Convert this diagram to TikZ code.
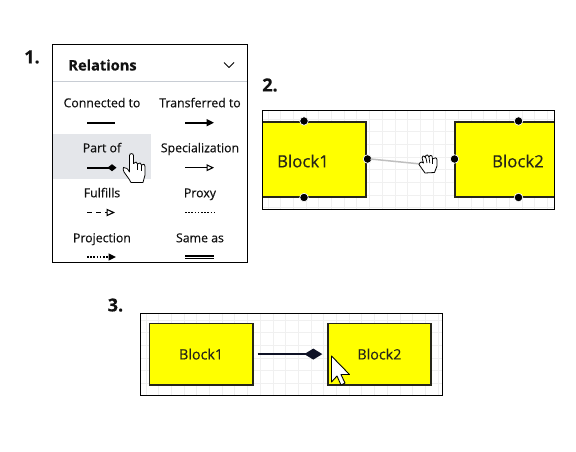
\documentclass[tikz,border=0pt]{standalone}
\usepackage{fontspec}
\setmainfont[FakeBold=0.35]{Open Sans}
\usetikzlibrary{arrows.meta}
\definecolor{ink}{HTML}{111111}
\definecolor{hilite}{HTML}{E4E6EA}
\definecolor{sepline}{HTML}{C8CDD4}
\definecolor{gridc}{HTML}{F0F0F0}
\definecolor{blockfill}{HTML}{FFFF00}
\definecolor{blockedge}{HTML}{26261A}
\definecolor{navyline}{HTML}{0F1226}
\tikzset{
  x=1pt,y=-1pt,
  frame/.style={draw=black,line width=1.1pt,fill=none},
  numlabel/.style={font=\fontsize{18}{18}\selectfont\bfseries,text=ink,inner sep=0pt},
  relname/.style={font=\fontsize{12.3}{12.3}\selectfont,text=ink,inner sep=0pt,text height=9pt,text depth=2.5pt},
  rel/.style={draw=black,line width=1.6pt},
  dotted rel/.style={rel,line width=1.5pt,dash pattern=on 1.6pt off 1.6pt},
  blockA/.style={draw=blockedge,fill=blockfill,line width=1.7pt},
  blocktxt/.style={text=blockedge,inner sep=0pt},
  port/.style={circle,fill=black,draw=white,line width=0.7pt,minimum size=8.5pt,inner sep=0pt},
  handshape/.style={draw=black,fill=white,line width=0.8pt,line join=round},
  fing/.style={draw=black,line width=0.7pt},
}
\begin{document}
\begin{tikzpicture}
\useasboundingbox (0,0) rectangle (576,452);
\fill[white] (0,0) rectangle (576,452);
% --- panel 1
\node[numlabel] (n1) at (32,57) {1.};
\fill[hilite] (53,134) rectangle (151,179);
\draw[sepline,line width=1.3pt] (53,81.5) -- (247,81.5);
\node[inner sep=0pt,font=\fontsize{14.6}{14.6}\selectfont\bfseries,text=ink] (reltitle) at (102.5,65) {Relations};
\draw[black,line width=1pt,line join=round] (224,62.5) -- (229,67.5) -- (234,62.5);
\node[relname] (lconn) at (102,104) {Connected to};
\node[relname] (ltran) at (200,104) {Transferred to};
\node[relname] (lpart) at (102,149) {Part of};
\node[relname] (lspec) at (200,149) {Specialization};
\node[relname] (lfulf) at (102,194) {Fulfills};
\node[relname] (lprox) at (200,194) {Proxy};
\node[relname] (lproj) at (102,239) {Projection};
\node[relname] (lsame) at (200,239) {Same as};
\coordinate (c1a) at (87,122.7); \coordinate (c1b) at (115,122.7);
\coordinate (c2a) at (185,122.7); \coordinate (c2b) at (214,122.7);
\coordinate (c3a) at (87,167.7); \coordinate (c3b) at (116.5,167.7);
\coordinate (c4a) at (185,167.7); \coordinate (c4b) at (214,167.7);
\coordinate (c5a) at (87,212.5); \coordinate (c5b) at (115,212.5);
\coordinate (c6a) at (185,212.5); \coordinate (c6b) at (214,212.5);
\coordinate (c7a) at (87,257); \coordinate (c7b) at (116,257);
\coordinate (c8a) at (185,257); \coordinate (c8b) at (214,257);
\draw[rel] (c1a) -- (c1b);
\draw[rel,-{Triangle[length=7.5pt,width=7pt]}] (c2a) -- (c2b);
\draw[rel,-{Diamond[length=9pt,width=7pt]}] (c3a) -- (c3b);
\draw[rel,line width=1.4pt,-{Triangle[open,length=7.5pt,width=7pt,fill=white,line width=1.1pt]}] (c4a) -- (c4b);
\draw[rel,line width=1.6pt,dash pattern=on 5pt off 4pt,-{Triangle[open,length=8.5pt,width=7.5pt,fill=white,line width=1.1pt]}] (c5a) -- (c5b);
\draw[dotted rel] (c6a) -- (c6b);
\draw[dotted rel,-{Triangle[length=7.5pt,width=7pt]}] (c7a) -- (c7b);
\draw[black,line width=1.2pt,double=white,double distance=1pt] (c8a) -- (c8b);
% hand 1
\draw[handshape] (123.5,167.5) .. controls (126,167) and (128,169) .. (129.5,172)
  -- (129.5,155.5) .. controls (129.5,153) and (133.5,153) .. (133.5,155.5)
  -- (133.5,163.5) .. controls (135,161.5) and (137.5,161.5) .. (137.5,164)
  .. controls (139,162.5) and (141.5,162.5) .. (141.5,165)
  .. controls (143,163.5) and (145,164) .. (145,167)
  -- (145,175) -- (143,182.5) -- (131,182.5) -- (129,179) -- (124,172) .. controls (123,170) and (123,168.5) .. (123.5,167.5) -- cycle;
\draw[fing] (137.5,164) -- (137.5,170);
\draw[fing] (141.5,165) -- (141.5,171);
\draw[frame] (52.5,44.5) rectangle (247.5,262.5);
% --- panel 2
\node[numlabel] (n2) at (270,85) {2.};
\begin{scope}
\clip (262.5,110.5) rectangle (554.5,209.5);
\foreach \gx in {268,280.7,...,560} \draw[gridc,line width=1pt] (\gx,110) -- (\gx,211);
\foreach \gy in {119,131.7,...,210} \draw[gridc,line width=1pt] (262,\gy) -- (555,\gy);
\draw[blockA] (250,122) rectangle (366,196.7);
\draw[blockA] (570,122) rectangle (455.3,196.7);
\end{scope}
\node[blocktxt,font=\fontsize{16.8}{16.8}\selectfont] (b1) at (303,161) {Block1};
\node[blocktxt,font=\fontsize{16.8}{16.8}\selectfont] (b2) at (518,161) {Block2};
\node[port] (p1) at (304,121) {};
\node[port] (p2) at (304,197.5) {};
\node[port] (p3) at (367.5,159) {};
\node[port] (p4) at (454.5,159) {};
\node[port] (p5) at (518.5,121) {};
\node[port] (p6) at (518.5,197.5) {};
\coordinate (dragend) at (421,164);
\draw[gray!50,line width=1.5pt] (p3.center) ++(3,0) -- (dragend);
% open hand
\draw[handshape] (419,164.5) .. controls (420,161) and (423,162) .. (423.5,163)
  .. controls (422,158) and (421.5,157) .. (423,156)
  .. controls (424.5,155.5) and (425,157) .. (425.5,158)
  .. controls (425,156) and (426,154.5) .. (427.5,155)
  .. controls (428.5,155.5) and (428.5,156) .. (429,157)
  .. controls (429.5,155) and (431,155) .. (432,156)
  .. controls (432.5,157) and (432.5,158) .. (432.5,159)
  .. controls (434,157.5) and (437,157) .. (437,160)
  -- (437,166) -- (434.5,172.5) -- (425,173) -- cycle;
\draw[fing] (426,158) -- (427,163);
\draw[fing] (429,157) -- (429.8,163);
\draw[fing] (432.5,159) -- (432.5,164);
\draw[frame] (262.5,110.5) rectangle (554.5,209.5);
% --- panel 3
\node[numlabel] (n3) at (115.5,305) {3.};
\begin{scope}
\clip (140.5,313.5) rectangle (442.5,395.5);
\foreach \gx in {146,158.7,...,445} \draw[gridc,line width=1pt] (\gx,313) -- (\gx,396);
\foreach \gy in {320,332.7,...,396} \draw[gridc,line width=1pt] (140,\gy) -- (443,\gy);
\end{scope}
\node[blockA,minimum width=103.5pt,minimum height=61.5pt,inner sep=0pt,anchor=north west,font=\fontsize{14.3}{14.3}\selectfont,text=blockedge] (b31) at (148.5,322.5) {Block1};
\node[blockA,minimum width=103.5pt,minimum height=61.5pt,inner sep=0pt,anchor=north west,font=\fontsize{14.3}{14.3}\selectfont,text=blockedge] (b32) at (326.8,322.5) {Block2};
\draw[navyline,line width=1.8pt,shorten <=4pt,shorten >=4.5pt,-{Diamond[length=18pt,width=11pt]}] (b31.east) -- (b32.west);
\draw[black,fill=white,line width=0.9pt,line join=round] (331.5,356) -- (331.5,382) -- (337,376) -- (341,385) -- (345,383) -- (341,374.5) -- (349.5,374.5) -- cycle;
\draw[frame] (140.5,313.5) rectangle (442.5,395.5);
\end{tikzpicture}
\end{document}
